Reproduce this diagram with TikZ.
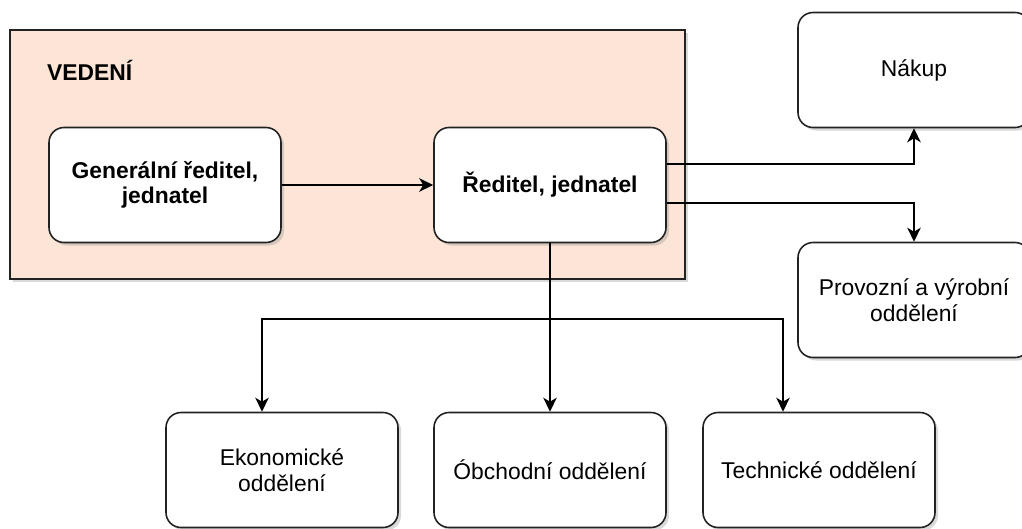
\documentclass[tikz,border=0pt]{standalone}
\usepackage{fontspec}
\setmainfont{Liberation Sans}
\usepackage{tikz}
\usetikzlibrary{calc}
\usetikzlibrary{arrows.meta}
\usetikzlibrary{shadows}

\definecolor{vedenifill}{RGB}{252,229,215}
\definecolor{linegray}{RGB}{34,34,34}

\tikzset{
  unit/.style={draw=linegray, line width=0.9pt, fill=white, rounded corners=0.3cm,
    minimum width=4.64cm, minimum height=2.3cm, align=center,
    font=\fontsize{13}{14.5}\selectfont,
    drop shadow={opacity=0.3, shadow xshift=0.06cm, shadow yshift=-0.06cm}},
  link/.style={line width=0.9pt, -{Stealth[length=2.8mm, width=2.7mm, inset=0.8mm]}}
}

\begin{document}
\begin{tikzpicture}
            % Page frame
            \useasboundingbox (0,0) rectangle (20.44,-10.56);

            % Define the positions of the units
            \coordinate (Cgen) at (3.3,-3.7);
            \coordinate (Cred) at (11.0,-3.7);
            \coordinate (Cnak) at (18.28,-1.4);
            \coordinate (Cpro) at (18.28,-6.0);
            \coordinate (Ceko) at (5.64,-9.4);
            \coordinate (Cobc) at (11.0,-9.4);
            \coordinate (Ctec) at (16.38,-9.4);
            \coordinate (bus) at (0,-6.38);

            % Draw the management area
            \draw[draw=linegray, line width=0.9pt, fill=vedenifill,
              drop shadow={opacity=0.3, shadow xshift=0.06cm, shadow yshift=-0.06cm}]
              (0.2,-0.6) rectangle (13.7,-5.58);
            \node[anchor=west, font=\fontsize{13}{14.5}\selectfont\bfseries] (vedeni) at (0.82,-1.4) {VEDENÍ};

            % Draw the units
            \node[unit, font=\fontsize{13}{14.5}\selectfont\bfseries] (gen) at (Cgen) {Generální ředitel,\\jednatel};
            \node[unit, font=\fontsize{13}{14.5}\selectfont\bfseries] (red) at (Cred) {Ředitel, jednatel};
            \node[unit] (nak) at (Cnak) {Nákup};
            \node[unit] (pro) at (Cpro) {Provozní a výrobní\\oddělení};
            \node[unit] (eko) at (Ceko) {Ekonomické\\oddělení};
            \node[unit] (obc) at (Cobc) {Óbchodní oddělení};
            \node[unit] (tec) at (Ctec) {Technické oddělení};

            % Draw the links
            \draw[link] (gen) -- (red);
            \draw[link] ($(red.east)+(0,0.42)$) -| (nak.south);
            \draw[link] ($(red.east)+(0,-0.36)$) -| (pro.north);
            \draw[link] (red.south) -- (obc.north);
            \draw[link] (red.south |- bus) -| ($(eko.north)+(-0.4,0)$);
            \draw[link] (red.south |- bus) -| ($(tec.north)+(-0.72,0)$);

        \end{tikzpicture}
\end{document}
